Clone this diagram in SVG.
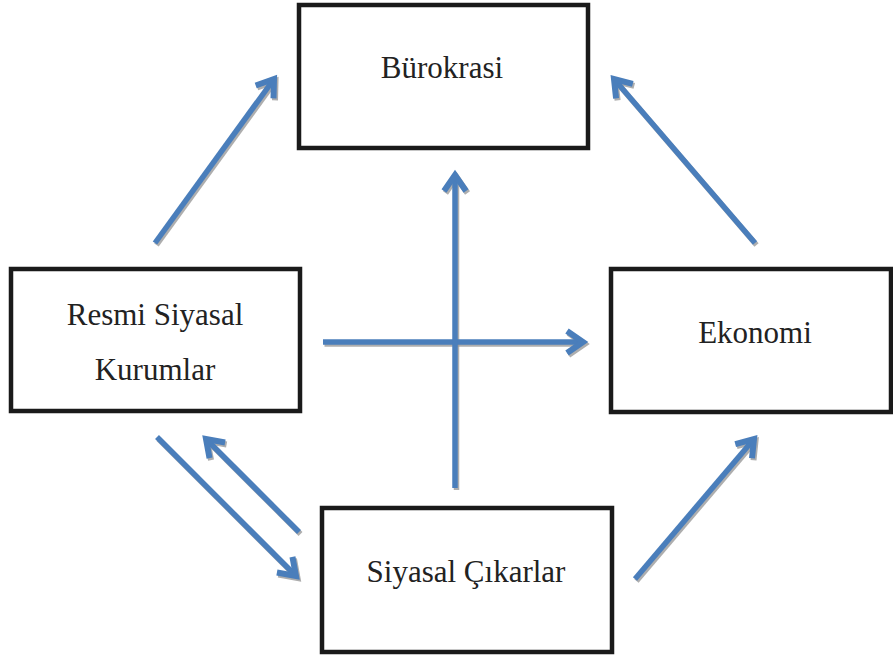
<svg xmlns="http://www.w3.org/2000/svg" width="893" height="657" viewBox="0 0 893 657">
<style>
.box{fill:#fff;stroke:#1a1a1a;stroke-width:4.5}
.lbl{font-family:"Liberation Serif","Times New Roman",serif;font-size:31px;fill:#222;text-anchor:middle}
.ln{stroke:#4a7ebb;stroke-width:5.5;fill:none;stroke-linecap:butt;marker-end:url(#ah)}
.sh{stroke:#9a9a9a;stroke-width:5.5;fill:none;opacity:0.8;marker-end:url(#ahs)}
</style>
<defs>
<marker id="ah" markerUnits="userSpaceOnUse" markerWidth="40" markerHeight="40" refX="0" refY="0" viewBox="-20 -20 40 40" orient="auto" overflow="visible">
<path d="M-16,-11 L0,0 L-16,11" fill="none" stroke="#4a7ebb" stroke-width="6" stroke-linejoin="miter"/>
</marker>
<marker id="ahs" markerUnits="userSpaceOnUse" markerWidth="40" markerHeight="40" refX="0" refY="0" viewBox="-20 -20 40 40" orient="auto" overflow="visible">
<path d="M-16,-11 L0,0 L-16,11" fill="none" stroke="#9a9a9a" stroke-width="6" stroke-linejoin="miter"/>
</marker>
</defs>
<rect width="893" height="657" fill="#fff"/>
<g id="connectors">
<g transform="translate(1.5,2)">
<line class="sh" x1="155" y1="243" x2="274" y2="79"/>
<line class="sh" x1="755" y1="243" x2="614" y2="79"/>
<line class="sh" x1="455" y1="488" x2="455" y2="175"/>
<line class="sh" x1="323" y1="342" x2="583" y2="342"/>
<line class="sh" x1="157" y1="437" x2="296" y2="576"/>
<line class="sh" x1="299" y1="532" x2="206" y2="439"/>
<line class="sh" x1="635" y1="579" x2="754" y2="439"/>
</g>
<line class="ln" x1="155" y1="243" x2="274" y2="79"/>
<line class="ln" x1="755" y1="243" x2="614" y2="79"/>
<line class="ln" x1="323" y1="342" x2="583" y2="342"/>
<line class="ln" x1="455" y1="488" x2="455" y2="175"/>
<line class="ln" x1="157" y1="437" x2="296" y2="576"/>
<line class="ln" x1="299" y1="532" x2="206" y2="439"/>
<line class="ln" x1="635" y1="579" x2="754" y2="439"/>
</g>
<g id="burokrasi">
<rect class="box" x="299" y="5" width="289" height="143"/>
<text class="lbl" x="442" y="78">Bürokrasi</text>
</g>
<g id="resmi">
<rect class="box" x="11" y="269" width="289" height="142"/>
<text class="lbl" x="155" y="325">Resmi Siyasal</text>
<text class="lbl" x="155" y="380">Kurumlar</text>
</g>
<g id="ekonomi">
<rect class="box" x="611" y="269" width="280" height="143"/>
<text class="lbl" x="755" y="343">Ekonomi</text>
</g>
<g id="siyasal">
<rect class="box" x="322" y="508" width="290" height="144"/>
<text class="lbl" x="466" y="582">Siyasal Çıkarlar</text>
</g>
</svg>
